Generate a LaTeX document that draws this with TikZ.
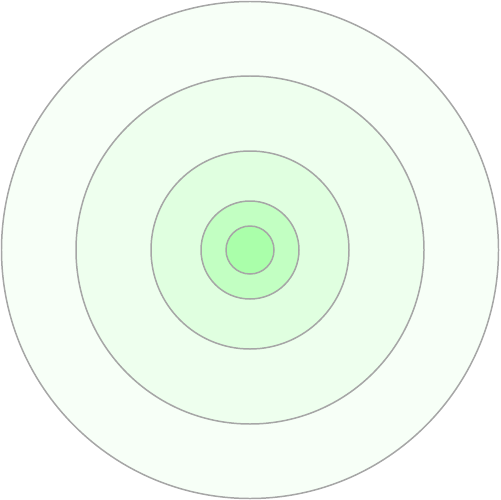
\documentclass[tikz,border=0pt]{standalone}
\usepackage{tikz}
\definecolor{ringa}{HTML}{F7FFF7}
\definecolor{ringb}{HTML}{EEFFEE}
\definecolor{ringc}{HTML}{E0FFE0}
\definecolor{ringd}{HTML}{C2FFC2}
\definecolor{ringe}{HTML}{AAFFAA}
\definecolor{rimgray}{HTML}{A6A6A6}
\tikzset{
  ring/.style={draw=rimgray, line width=0.85pt, fill=#1},
}
\begin{document}
\begin{tikzpicture}[x=0.02cm, y=-0.02cm]
  \useasboundingbox (0,0) rectangle (500,500);
  \coordinate (c) at (250,250);
  \foreach \r/\col in {248.5/ringa, 174/ringb, 99/ringc, 49/ringd, 24/ringe}
    \draw[ring=\col] (c) circle[radius=\r];
\end{tikzpicture}
\end{document}
